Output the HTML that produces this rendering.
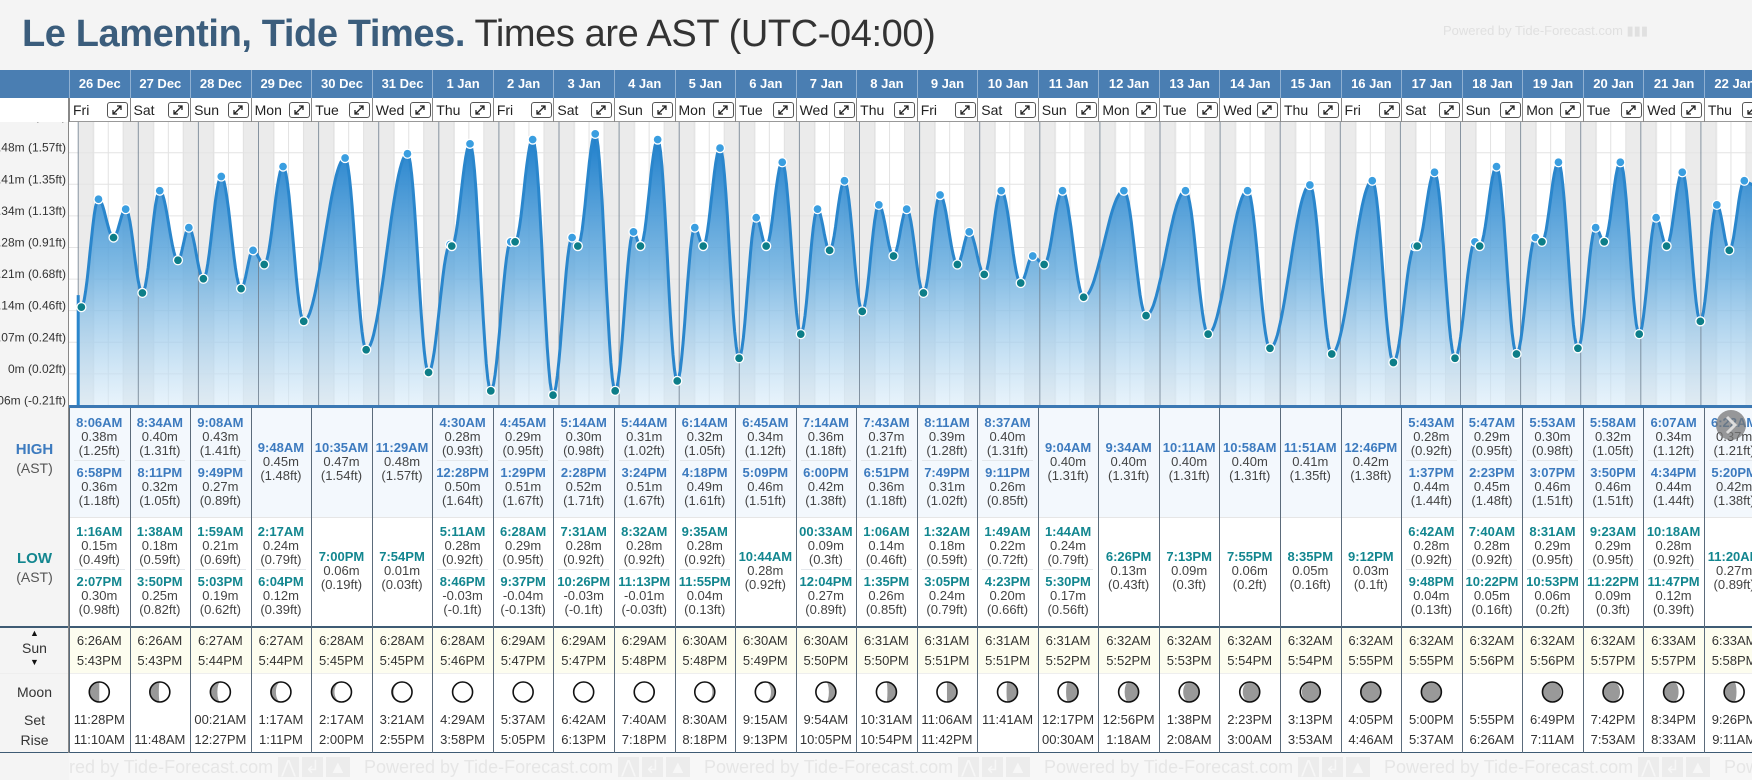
<!DOCTYPE html>
<html><head><meta charset="utf-8">
<style>
*{margin:0;padding:0;box-sizing:border-box}
body{width:1752px;height:780px;overflow:hidden;background:#f4f4f4;font-family:"Liberation Sans",sans-serif;position:relative}
.a{position:absolute}
.c{position:absolute;text-align:center;white-space:nowrap}
</style></head><body>
<div class="a" style="left:22px;top:12px;font-size:38px;line-height:44px;color:#333;letter-spacing:-0.4px;white-space:nowrap"><b style="color:#3b5d7c">Le Lamentin, Tide Times.</b> Times are AST (UTC-04:00)</div>
<div class="a" style="left:1443px;top:23px;font-size:13px;color:#e0e0e0">Powered by Tide-Forecast.com ▮▮▮</div>
<div id="root" class="a" style="left:0;top:0;width:1752px;height:780px"></div>
<svg id="chart" class="a" style="left:0;top:0" width="1752" height="780"></svg>
<script>
const days=["26 Dec","27 Dec","28 Dec","29 Dec","30 Dec","31 Dec","1 Jan","2 Jan","3 Jan","4 Jan","5 Jan","6 Jan","7 Jan","8 Jan","9 Jan","10 Jan","11 Jan","12 Jan","13 Jan","14 Jan","15 Jan","16 Jan","17 Jan","18 Jan","19 Jan","20 Jan","21 Jan","22 Jan"];
const dows=["Fri","Sat","Sun","Mon","Tue","Wed","Thu","Fri","Sat","Sun","Mon","Tue","Wed","Thu","Fri","Sat","Sun","Mon","Tue","Wed","Thu","Fri","Sat","Sun","Mon","Tue","Wed","Thu"];
const highs=[
[["8:06AM",0.38,"1.25"],["6:58PM",0.36,"1.18"]],
[["8:34AM",0.40,"1.31"],["8:11PM",0.32,"1.05"]],
[["9:08AM",0.43,"1.41"],["9:49PM",0.27,"0.89"]],
[["9:48AM",0.45,"1.48"]],
[["10:35AM",0.47,"1.54"]],
[["11:29AM",0.48,"1.57"]],
[["4:30AM",0.28,"0.93"],["12:28PM",0.50,"1.64"]],
[["4:45AM",0.29,"0.95"],["1:29PM",0.51,"1.67"]],
[["5:14AM",0.30,"0.98"],["2:28PM",0.52,"1.71"]],
[["5:44AM",0.31,"1.02"],["3:24PM",0.51,"1.67"]],
[["6:14AM",0.32,"1.05"],["4:18PM",0.49,"1.61"]],
[["6:45AM",0.34,"1.12"],["5:09PM",0.46,"1.51"]],
[["7:14AM",0.36,"1.18"],["6:00PM",0.42,"1.38"]],
[["7:43AM",0.37,"1.21"],["6:51PM",0.36,"1.18"]],
[["8:11AM",0.39,"1.28"],["7:49PM",0.31,"1.02"]],
[["8:37AM",0.40,"1.31"],["9:11PM",0.26,"0.85"]],
[["9:04AM",0.40,"1.31"]],
[["9:34AM",0.40,"1.31"]],
[["10:11AM",0.40,"1.31"]],
[["10:58AM",0.40,"1.31"]],
[["11:51AM",0.41,"1.35"]],
[["12:46PM",0.42,"1.38"]],
[["5:43AM",0.28,"0.92"],["1:37PM",0.44,"1.44"]],
[["5:47AM",0.29,"0.95"],["2:23PM",0.45,"1.48"]],
[["5:53AM",0.30,"0.98"],["3:07PM",0.46,"1.51"]],
[["5:58AM",0.32,"1.05"],["3:50PM",0.46,"1.51"]],
[["6:07AM",0.34,"1.12"],["4:34PM",0.44,"1.44"]],
[["6:22AM",0.37,"1.21"],["5:20PM",0.42,"1.38"]]];
const lows=[
[["1:16AM",0.15,"0.49"],["2:07PM",0.30,"0.98"]],
[["1:38AM",0.18,"0.59"],["3:50PM",0.25,"0.82"]],
[["1:59AM",0.21,"0.69"],["5:03PM",0.19,"0.62"]],
[["2:17AM",0.24,"0.79"],["6:04PM",0.12,"0.39"]],
[["7:00PM",0.06,"0.19"]],
[["7:54PM",0.01,"0.03"]],
[["5:11AM",0.28,"0.92"],["8:46PM",-0.03,"-0.1"]],
[["6:28AM",0.29,"0.95"],["9:37PM",-0.04,"-0.13"]],
[["7:31AM",0.28,"0.92"],["10:26PM",-0.03,"-0.1"]],
[["8:32AM",0.28,"0.92"],["11:13PM",-0.01,"-0.03"]],
[["9:35AM",0.28,"0.92"],["11:55PM",0.04,"0.13"]],
[["10:44AM",0.28,"0.92"]],
[["00:33AM",0.09,"0.3"],["12:04PM",0.27,"0.89"]],
[["1:06AM",0.14,"0.46"],["1:35PM",0.26,"0.85"]],
[["1:32AM",0.18,"0.59"],["3:05PM",0.24,"0.79"]],
[["1:49AM",0.22,"0.72"],["4:23PM",0.20,"0.66"]],
[["1:44AM",0.24,"0.79"],["5:30PM",0.17,"0.56"]],
[["6:26PM",0.13,"0.43"]],
[["7:13PM",0.09,"0.3"]],
[["7:55PM",0.06,"0.2"]],
[["8:35PM",0.05,"0.16"]],
[["9:12PM",0.03,"0.1"]],
[["6:42AM",0.28,"0.92"],["9:48PM",0.04,"0.13"]],
[["7:40AM",0.28,"0.92"],["10:22PM",0.05,"0.16"]],
[["8:31AM",0.29,"0.95"],["10:53PM",0.06,"0.2"]],
[["9:23AM",0.29,"0.95"],["11:22PM",0.09,"0.3"]],
[["10:18AM",0.28,"0.92"],["11:47PM",0.12,"0.39"]],
[["11:20AM",0.27,"0.89"]]];
const sunrise=["6:26AM","6:26AM","6:27AM","6:27AM","6:28AM","6:28AM","6:28AM","6:29AM","6:29AM","6:29AM","6:30AM","6:30AM","6:30AM","6:31AM","6:31AM","6:31AM","6:31AM","6:32AM","6:32AM","6:32AM","6:32AM","6:32AM","6:32AM","6:32AM","6:32AM","6:32AM","6:33AM","6:33AM"];
const sunset=["5:43PM","5:43PM","5:44PM","5:44PM","5:45PM","5:45PM","5:46PM","5:47PM","5:47PM","5:48PM","5:48PM","5:49PM","5:50PM","5:50PM","5:51PM","5:51PM","5:52PM","5:52PM","5:53PM","5:54PM","5:54PM","5:55PM","5:55PM","5:56PM","5:56PM","5:57PM","5:57PM","5:58PM"];
const moonset=["11:28PM","","00:21AM","1:17AM","2:17AM","3:21AM","4:29AM","5:37AM","6:42AM","7:40AM","8:30AM","9:15AM","9:54AM","10:31AM","11:06AM","11:41AM","12:17PM","12:56PM","1:38PM","2:23PM","3:13PM","4:05PM","5:00PM","5:55PM","6:49PM","7:42PM","8:34PM","9:26PM"];
const moonrise=["11:10AM","11:48AM","12:27PM","1:11PM","2:00PM","2:55PM","3:58PM","5:05PM","6:13PM","7:18PM","8:18PM","9:13PM","10:05PM","10:54PM","11:42PM","","00:30AM","1:18AM","2:08AM","3:00AM","3:53AM","4:46AM","5:37AM","6:26AM","7:11AM","7:53AM","8:33AM","9:11AM"];
const moonGray=[0.5,0.45,0.35,0.25,0.15,0.08,0.03,0,0,0.05,0.12,0.22,0.35,0.45,0.5,0.55,0.6,0.7,0.8,0.85,0.92,0.97,1,-1,0.93,0.85,0.75,0.62];
const moonSide=["L","L","L","L","L","L","L","L","L","R","R","R","R","R","R","R","R","R","R","R","R","R","R","R","L","L","L","L"];
const tickM=["-0.06m","0m","0.07m","0.14m","0.21m","0.28m","0.34m","0.41m","0.48m","0.55m"];
const tickFt=["-0.21ft","0.02ft","0.24ft","0.46ft","0.68ft","0.91ft","1.13ft","1.35ft","1.57ft","1.8ft"];
const tickVal=[-0.2025,0.02,0.2425,0.465,0.6875,0.91,1.1325,1.355,1.5775,1.8];

const root=document.getElementById('root');
const svg=document.getElementById('chart');
const NS="http://www.w3.org/2000/svg";
const COL0=69,COLW=60.55;
const CX0=78.2,DAYW=60.1;
const CT=122,CB=405;
function yFt(ft){return 376.7-142*ft;}
function xT(t){return CX0+t*DAYW;}
function hrs(s){const m=s.match(/(\d+):(\d+)(AM|PM)/);let h=+m[1]%12;if(m[3]=="PM")h+=12;return h+ +m[2]/60;}
function S(tag,attrs,parent){const e=document.createElementNS(NS,tag);for(const k in attrs)e.setAttribute(k,attrs[k]);(parent||svg).appendChild(e);return e;}
function D(style,html,parent){const e=document.createElement('div');e.className='a';e.style.cssText=style;if(html!=null)e.innerHTML=html;(parent||root).appendChild(e);return e;}

let e;
e=D("left:0;top:62px;width:1752px;height:8px;background:#f4f4f4");
e=D("left:0;top:70px;width:1752px;height:28px;background:#4a7eb2");

e=D("left:0;top:98px;width:1752px;height:24px;background:#fff;border-bottom:1px solid #999");
e=D("left:69px;top:409px;width:1683px;height:108px;background:#f3f8fd");
e=D("left:69px;top:517px;width:1683px;height:109px;background:#fff");
e=D("left:69px;top:628px;width:1683px;height:45px;background:#fdfdef");
e=D("left:69px;top:673px;width:1683px;height:79px;background:#fff");
e=D("left:0;top:626px;width:1752px;height:2px;background:#3e5b74");
e=D("left:0;top:752px;width:1752px;height:1px;background:#3e5b74");
e=D("left:0;top:673px;width:1752px;height:1px;background:#eee");
e=D("left:69px;top:517px;width:1683px;height:1px;background:#e6e6e6");
e=D("left:69px;top:753px;width:1683px;height:27px;background:#f7f7f7;overflow:hidden");

const foot=e;
[-45,295,635,975,1315,1655].forEach(x=>{D("left:"+x+"px;top:4px;font-size:18px;color:#e6e6e6;white-space:nowrap","Powered by Tide-Forecast.com <span style='background:#ececec;color:#f7f7f7;padding:0 3px'>⋀</span><span style='background:#ececec;color:#f7f7f7;padding:0 3px;margin-left:3px'>↲</span><span style='background:#ececec;color:#f7f7f7;padding:0 3px;margin-left:3px'>▲</span>",foot);});

e=D("left:0;top:441px;width:69px;text-align:center;font-size:15px;font-weight:bold;color:#3d7bbf","HIGH");
D("left:0;top:460px;width:69px;text-align:center;font-size:14px;color:#555","(AST)");
e=D("left:0;top:550px;width:69px;text-align:center;font-size:15px;font-weight:bold;color:#12868f","LOW");
D("left:0;top:569px;width:69px;text-align:center;font-size:14px;color:#555","(AST)");
e=D("left:0;top:640px;width:69px;text-align:center;font-size:14px;color:#333","Sun");
D("left:0;top:628px;width:69px;text-align:center;font-size:9px;color:#111","▲");
D("left:0;top:657px;width:69px;text-align:center;font-size:9px;color:#111","▼");
e=D("left:0;top:684px;width:69px;text-align:center;font-size:14px;color:#333","Moon");
D("left:0;top:712px;width:69px;text-align:center;font-size:14px;color:#333","Set");
D("left:0;top:732px;width:69px;text-align:center;font-size:14px;color:#333","Rise");

days.forEach((d,i)=>{
  const x=COL0+i*COLW;
  let c=D("left:"+x+"px;top:70px;width:"+COLW+"px;height:28px;border-left:1px solid #8fb0d2;color:#fff;font-weight:bold;font-size:13px;line-height:28px;text-align:center",d);
  
  c=D("left:"+x+"px;top:98px;width:"+COLW+"px;height:24px;border-left:1px solid #888;font-size:14px;line-height:24px;color:#222;padding-left:3px",dows[i]);
  
  c=D("left:"+(x+38)+"px;top:102px;width:21px;height:16px;border:1px solid #555;border-radius:3px;background:#fff",
   "<svg width='19' height='14'><path d='M5 11 L13 3 M9 3 H13 V7 M5 7 V11 H9' stroke='#222' stroke-width='1.3' fill='none'/></svg>");
  
  D("left:"+x+"px;top:408px;width:1px;height:345px;background:#5b6b7b");
  const cx=x+COLW/2;
  function tide(arr,top1,top2,topS,col){
    arr.forEach((t,j)=>{
      const top=arr.length==1?topS:(j==0?top1:top2);
      let g=D("left:"+(cx-32)+"px;top:"+top+"px;width:64px;text-align:center;line-height:14px",
       "<div style='font-size:13px;font-weight:bold;color:"+col+"'>"+t[0]+"</div><div style='font-size:13px;color:#444'>"+t[1].toFixed(2)+"m</div><div style='font-size:13px;color:#444'>("+t[2]+"ft)</div>");
      
    });
    if(arr.length==2)D("left:"+(x+5)+"px;top:"+(top2-6)+"px;width:"+(COLW-10)+"px;height:1px;background:#e4e8ec");
  }
  tide(highs[i],416,466,441,"#3d7bbf");
  tide(lows[i],525,575,550,"#12868f");
  D("left:"+x+"px;top:634px;width:"+COLW+"px;text-align:center;font-size:13px;color:#333;line-height:14px",sunrise[i]+"<br><div style='height:6px'></div>"+sunset[i]);
  D("left:"+x+"px;top:713px;width:"+COLW+"px;text-align:center;font-size:13px;color:#333;line-height:14px",(moonset[i]||"&nbsp;")+"<br><div style='height:6px'></div>"+(moonrise[i]||"&nbsp;"));
});
D("left:0;top:70px;width:69px;height:28px;background:#4a7eb2");
D("left:0;top:98px;width:69px;height:24px;background:#fff");
D("left:68px;top:98px;width:1px;height:655px;background:#888");

const defs=S('defs',{});
const lg=S('linearGradient',{id:'fillg',x1:0,y1:0,x2:0,y2:1},defs);
S('stop',{offset:'0','stop-color':'#1d7ecb','stop-opacity':'1'},lg);
S('stop',{offset:'0.5','stop-color':'#6aaedf','stop-opacity':'0.85'},lg);
S('stop',{offset:'1','stop-color':'#d8ebf8','stop-opacity':'0.6'},lg);
const cp=S('clipPath',{id:'clipc'},defs);
S('rect',{x:69,y:CT,width:1752-69,height:CB-CT},cp);
const g=S('g',{'clip-path':'url(#clipc)'});
S('rect',{x:69,y:CT,width:1683,height:CB-CT,fill:'#fff'},g);
days.forEach((d,i)=>{
  const r=hrs(sunrise[i])/24,s=hrs(sunset[i])/24;
  let b=S('rect',{x:xT(i),y:CT,width:r*DAYW,height:CB-CT,fill:'#ebebeb'},g);
  
  
  b=S('rect',{x:xT(i+s),y:CT,width:(1-s)*DAYW,height:CB-CT,fill:'#ebebeb'},g);
  
  
});
tickVal.forEach(v=>{S('line',{x1:69,x2:1752,y1:yFt(v),y2:yFt(v),stroke:'#e4e4e4','stroke-width':1},g);});
days.forEach((d,i)=>{
  [0.25,0.5,0.75].forEach(f=>S('line',{x1:xT(i+f),x2:xT(i+f),y1:CT,y2:CB,stroke:'#e2e2e2','stroke-width':1},g));
});
const ext=[];
days.forEach((d,i)=>{
  highs[i].forEach(t=>ext.push({t:i+hrs(t[0])/24,v:t[1],ft:+t[2],hi:true}));
  lows[i].forEach(t=>ext.push({t:i+hrs(t[0])/24,v:t[1],ft:+t[2],hi:false}));
});
ext.sort((a,b)=>a.t-b.t);
let pts=[[xT(0),yFt(ext[0].ft)]];
for(let k=0;k<ext.length-1;k++){
  const a=ext[k],b=ext[k+1];
  const x1=xT(a.t),x2=xT(b.t);const n=Math.max(4,Math.ceil((x2-x1)/1.5));
  for(let j=0;j<=n;j++){const f=j/n;const v=a.ft+(b.ft-a.ft)*(1-Math.cos(Math.PI*f))/2;pts.push([x1+(x2-x1)*f,yFt(v)]);}
}
const last=ext[ext.length-1];
pts.push([1760,yFt(last.ft)+(1760-xT(last.t))*0.5]);
const line=pts.map((p,i)=>(i?'L':'M')+p[0].toFixed(1)+' '+p[1].toFixed(1)).join(' ');
const area=S('path',{d:line+' L1760 '+CB+' L'+xT(0)+' '+CB+' Z',fill:'url(#fillg)'},g);


days.forEach((d,i)=>{S('line',{x1:xT(i),x2:xT(i),y1:CT,y2:CB,stroke:'#6c7c8c','stroke-width':1,'stroke-opacity':0.8},g);});
const tl=S('path',{d:line,fill:'none',stroke:'#2a86cc','stroke-width':3},g);


S('line',{x1:xT(0),x2:xT(0),y1:yFt(ext[0].ft)-12,y2:CB,stroke:'#2a86cc','stroke-width':3},g);
ext.forEach(p=>{
  const c=S('circle',{cx:xT(p.t),cy:yFt(p.ft),r:4.5,fill:p.hi?'#3a9ee0':'#0d7e88',stroke:'#fff','stroke-width':1.3},g);
  
  
});
S('rect',{x:69,y:CB,width:1683,height:3,fill:'#3b78b3'});
const yl=S('g',{});

tickVal.forEach((v,i)=>{
  const t=S('text',{x:66,y:yFt(v)-1,'text-anchor':'end','font-size':12,fill:'#333','font-family':'Liberation Sans, sans-serif'},yl);
  t.textContent=tickM[i]+" ("+tickFt[i]+")";
  
  
});
S('rect',{x:0,y:98,width:68,height:24,fill:'#fff'});
S('line',{x1:68.5,x2:68.5,y1:98,y2:408,stroke:'#888'});
days.forEach((d,i)=>{
  const cx=COL0+i*COLW+COLW/2,cy=692,r=10;const gr=moonGray[i];
  if(gr<0)return;
  const mg=S('g',{});
  
  
  S('circle',{cx:cx,cy:cy,r:r,fill:'#fff'},mg);
  if(gr>0){
    const rx=Math.abs(1-2*gr)*r;let so,st;
    if(moonSide[i]=="L"){so=0;st=gr<0.5?1:0;}else{so=1;st=gr<0.5?0:1;}
    S('path',{d:`M${cx} ${cy-r} A${r} ${r} 0 0 ${so} ${cx} ${cy+r} A${rx} ${r} 0 0 ${st} ${cx} ${cy-r} Z`,fill:'#999'},mg);
  }
  S('circle',{cx:cx,cy:cy,r:r,fill:'none',stroke:'#111','stroke-width':1.6},mg);
});
const nb=S('g',{});


S('circle',{cx:1731,cy:425,r:15,fill:'#777','fill-opacity':0.75},nb);
S('path',{d:'M1727 417 L1735 425 L1727 433',stroke:'#ddd','stroke-width':3,fill:'none'},nb);
</script>
</body></html>
